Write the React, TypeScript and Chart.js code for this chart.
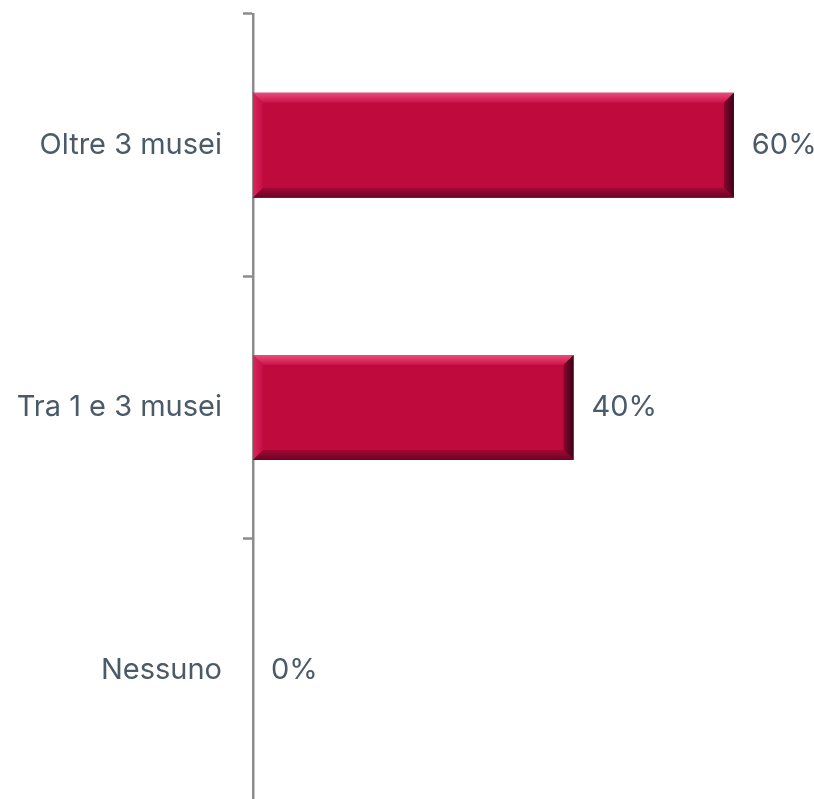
import React, { useEffect, useRef } from 'react';
import { Chart, registerables } from 'chart.js';

Chart.register(...registerables);

const categories = ['Oltre 3 musei', 'Tra 1 e 3 musei', 'Nessuno'];
const values = [60, 40, 0];
const valueLabels = ['60%', '40%', '0%'];

const FONT = 'Inter, "Liberation Sans", sans-serif';
const TEXT = '#4B5A68';
const AXIS = '#8C8C8C';
const BAR = '#BF0A3E';

function poly(ctx: CanvasRenderingContext2D, pts: number[][], fill: any) {
  ctx.beginPath();
  ctx.moveTo(pts[0][0], pts[0][1]);
  for (let i = 1; i < pts.length; i++) ctx.lineTo(pts[i][0], pts[i][1]);
  ctx.closePath();
  ctx.fillStyle = fill;
  ctx.fill();
}

const bevelPlugin = {
  id: 'bevel',
  afterDatasetsDraw(chart: any) {
    const ctx: CanvasRenderingContext2D = chart.ctx;
    const meta = chart.getDatasetMeta(0);
    meta.data.forEach((el: any, i: number) => {
      const { x, y, base, height } = el.getProps(['x', 'y', 'base', 'height'], true);
      const x0 = Math.min(x, base);
      const x1 = Math.max(x, base);
      const y0 = y - height / 2;
      const y1 = y + height / 2;
      const w = x1 - x0;
      ctx.save();
      if (w > 2) {
        const b = Math.min(10, w / 2, height / 2);
        let g = ctx.createLinearGradient(0, y0, 0, y0 + b);
        g.addColorStop(0, '#E4507E');
        g.addColorStop(0.3, '#E23A6C');
        g.addColorStop(1, '#CA1248');
        poly(ctx, [[x0, y0], [x1, y0], [x1 - b, y0 + b], [x0 + b, y0 + b]], g);
        g = ctx.createLinearGradient(x0, 0, x0 + b, 0);
        g.addColorStop(0, '#D8285C');
        g.addColorStop(1, '#C40E44');
        poly(ctx, [[x0, y0], [x0 + b, y0 + b], [x0 + b, y1 - b], [x0, y1]], g);
        g = ctx.createLinearGradient(0, y1 - b, 0, y1);
        g.addColorStop(0, '#A40836');
        g.addColorStop(1, '#6A0424');
        poly(ctx, [[x0, y1], [x0 + b, y1 - b], [x1 - b, y1 - b], [x1, y1]], g);
        g = ctx.createLinearGradient(x1 - b, 0, x1, 0);
        g.addColorStop(0, '#8A0630');
        g.addColorStop(1, '#3A0214');
        poly(ctx, [[x1, y0], [x1, y1], [x1 - b, y1 - b], [x1 - b, y0 + b]], g);
      }
      ctx.font = `29px ${FONT}`;
      ctx.fillStyle = TEXT;
      ctx.textBaseline = 'middle';
      ctx.textAlign = 'left';
      ctx.fillText(valueLabels[i], x1 + 18, y);
      ctx.restore();
    });
  },
};

export default function App() {
  const ref = useRef<HTMLCanvasElement | null>(null);
  useEffect(() => {
    if (!ref.current) return;
    const chart = new Chart(ref.current, {
      type: 'bar',
      data: {
        labels: categories,
        datasets: [
          {
            data: values,
            backgroundColor: BAR,
            borderWidth: 0,
            barPercentage: 0.4,
            categoryPercentage: 1,
          },
        ],
      },
      options: {
        indexAxis: 'y',
        animation: false,
        responsive: false,
        devicePixelRatio: 1,
        layout: { padding: { top: 14, bottom: 1, left: 0, right: 0 } },
        plugins: { legend: { display: false }, tooltip: { enabled: false } },
        scales: {
          x: { display: false, min: 0, max: 70 },
          y: {
            z: 1,
            border: { display: true, color: AXIS, width: 2.5 },
            grid: {
              display: true,
              drawOnChartArea: false,
              drawTicks: true,
              tickLength: 10,
              tickWidth: 2.5,
              tickColor: AXIS,
              offset: true,
            },
            ticks: { color: TEXT, font: { family: FONT, size: 29 }, padding: 21 },
            afterFit: (s: any) => {
              s.width = 253;
              s.paddingTop = 0;
              s.paddingBottom = 0;
            },
          },
        },
      },
      plugins: [bevelPlugin],
    });
    return () => chart.destroy();
  }, []);
  return (
    <div style={{ position: 'fixed', left: 0, top: 0, width: 814, height: 802, overflow: 'hidden', background: '#fff' }}>
      <canvas ref={ref} width={814} height={802} style={{ display: 'block' }} />
    </div>
  );
}
